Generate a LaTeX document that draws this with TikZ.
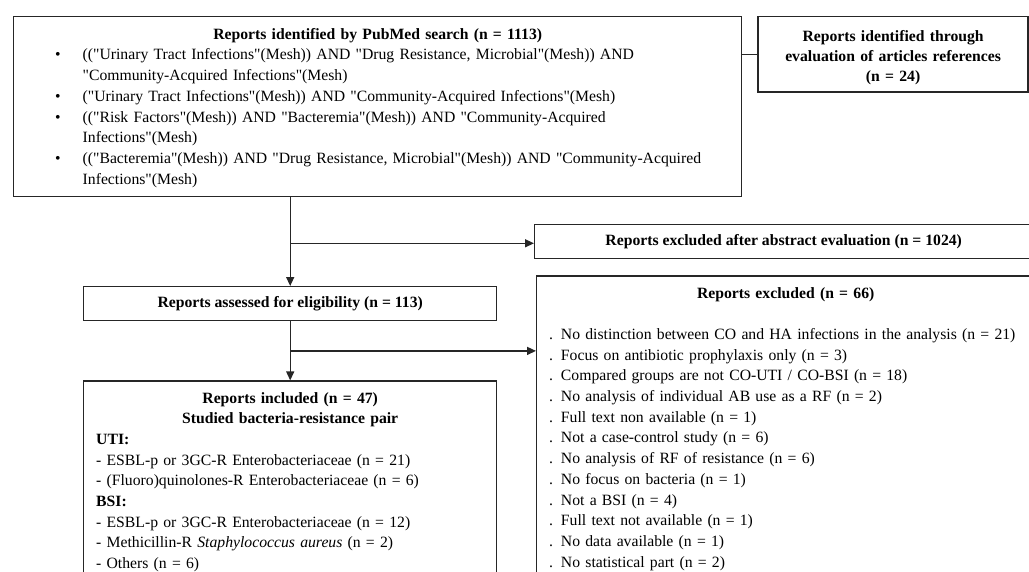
\documentclass[tikz,border=0pt]{standalone}
\usepackage{fontspec}
\setmainfont{Liberation Serif}[Ligatures=TeXOff]
\usetikzlibrary{positioning,arrows.meta,calc}

% one bulleted query line
\newcommand{\qitem}[1]{\par\hangindent=62.5pt\hangafter=0\noindent\llap{\textbullet\hspace{22pt}}#1}

\begin{document}
\begin{tikzpicture}[x=1pt, y=-1pt,
  box/.style={draw=black!85, line width=1.4pt, anchor=north west,
    font=\fontsize{15.7}{20.7}\selectfont, inner xsep=12.5pt, inner ysep=7.5pt},
  link/.style={draw=black!85, line width=1.4pt},
  arr/.style={link, -{Triangle[length=9pt, width=8pt]}}]
  \useasboundingbox (0,0) rectangle (1029,571);
  \clip (0,0) rectangle (1029,571);

  \node[box, inner xsep=6.5pt, inner ysep=6pt, text width=715pt, align=left] (S) at (13,16)
    {\centering\rule{0pt}{16.5pt}\textbf{Reports identified by PubMed search (n = 1113)}\par\raggedright
     \qitem{(("Urinary Tract Infections"(Mesh)) AND "Drug Resistance, Microbial"(Mesh)) AND\newline
       "Community-Acquired Infections"(Mesh)}
     \qitem{("Urinary Tract Infections"(Mesh)) AND "Community-Acquired Infections"(Mesh)}
     \qitem{(("Risk Factors"(Mesh)) AND "Bacteremia"(Mesh)) AND "Community-Acquired\newline
       Infections"(Mesh)}
     \qitem{(("Bacteremia"(Mesh)) AND "Drug Resistance, Microbial"(Mesh)) AND "Community-Acquired\newline
       Infections"(Mesh)\strut}\par};
  \node[box, inner xsep=6pt, minimum width=270pt, minimum height=74pt, text width=258pt, align=center,
    font=\fontsize{15.7}{20}\selectfont\bfseries, right=15pt of S.north east, anchor=north west] (R)
    {\rule{0pt}{17pt}Reports identified through\\evaluation of articles references\\(n = 24)};

  \node[box, minimum width=413pt, minimum height=34pt, font=\fontsize{15.7}{20.7}\selectfont\bfseries] (E)
    at (83,286) {Reports assessed for eligibility (n = 113)};
  \node[box, minimum width=498pt, minimum height=34pt, font=\fontsize{15.7}{20.7}\selectfont\bfseries] (X1)
    at (534,224) {Reports excluded after abstract evaluation (n = 1024)};

  \node[box, text width=388pt, align=left, below=59pt of E] (I)
    {\centering\strut\textbf{Reports included (n = 47)}\\\textbf{Studied bacteria-resistance pair}\par\raggedright
     \textbf{UTI:}\\
     - ESBL-p or 3GC-R Enterobacteriaceae (n = 21)\\
     - (Fluoro)quinolones-R Enterobacteriaceae (n = 6)\\
     \textbf{BSI:}\\
     - ESBL-p or 3GC-R Enterobacteriaceae (n = 12)\\
     - Methicillin-R \textit{Staphylococcus aureus} (n = 2)\\
     - Others (n = 6)\strut};
  \node[box, text width=473pt, align=left, below=16pt of X1.south west, anchor=north west, xshift=2pt] (X2)
    {\centering\strut\textbf{Reports excluded (n = 66)}\par\mbox{}\par\raggedright
     . No distinction between CO and HA infections in the analysis (n = 21)\\
     . Focus on antibiotic prophylaxis only (n = 3)\\
     . Compared groups are not CO-UTI / CO-BSI (n = 18)\\
     . No analysis of individual AB use as a RF (n = 2)\\
     . Full text non available (n = 1)\\
     . Not a case-control study (n = 6)\\
     . No analysis of RF of resistance (n = 6)\\
     . No focus on bacteria (n = 1)\\
     . Not a BSI (n = 4)\\
     . Full text not available (n = 1)\\
     . No data available (n = 1)\\
     . No statistical part (n = 2)\strut};

  % connectors
  \draw[link] (R.west) -- (R.west -| S.east);
  \draw[arr] (E.north |- S.south) -- (E.north);
  \coordinate (B1) at ($(E.north |- S.south)!0.52!(E.north)$);
  \draw[arr] (B1) -- (B1 -| X1.west);
  \draw[arr] (E.south) -- (I.north);
  \coordinate (B2) at ($(E.south)!0.5!(I.north)$);
  \draw[arr] (B2) -- (B2 -| X2.west);
\end{tikzpicture}
\end{document}
